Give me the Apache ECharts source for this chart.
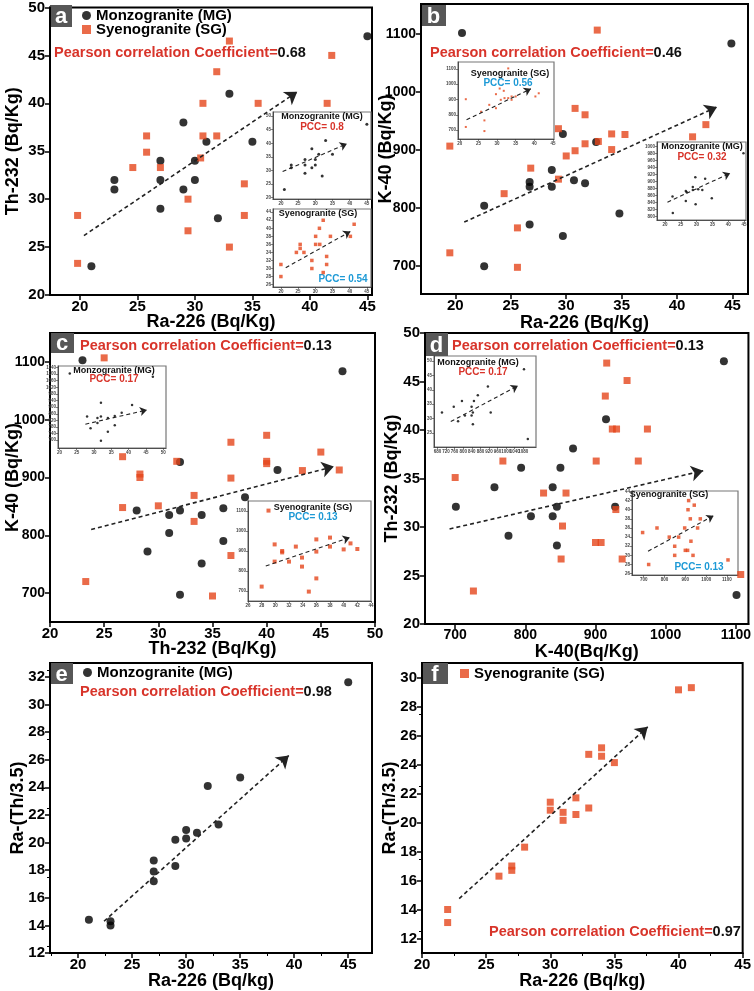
<!DOCTYPE html>
<html>
<head>
<meta charset="utf-8">
<script src="https://cdn.jsdelivr.net/npm/echarts@6/dist/echarts.min.js"></script>
<style>
  html, body { margin: 0; padding: 0; background: #fff; }
  #chart { width: 754px; height: 991px; }
</style>
</head>
<body>
<div id="chart"></div>
<script>
// ---- data ----
// panel a : Ra-226 vs Th-232
var aMG_Ra = [45, 33, 29, 31, 35, 27, 30, 23, 27, 30, 23, 29, 27, 32, 21];
var aMG_Th = [47, 41, 38, 36, 36, 34, 34, 32, 32, 32, 31, 31, 29, 28, 23];
var aSG_Ra = [33.0, 41.9, 31.9, 30.7, 35.5, 41.5, 25.8, 30.7, 31.9, 25.8, 30.5, 24.6, 27.0, 34.3, 29.4, 19.8, 34.3, 29.4, 33.0, 19.8];
var aSG_Th = [46.5, 45.0, 43.3, 40.0, 40.0, 40.0, 36.6, 36.6, 36.6, 34.9, 34.3, 33.3, 33.3, 31.6, 30.0, 28.3, 28.3, 26.7, 25.0, 23.3];
var aInSG_Ra = [20, 20, 24.5, 25.6, 25.6, 26.7, 29, 29, 30.1, 30.1, 31.2, 31.3, 32.3, 32.3, 33.3, 33.3, 34.4, 40.2, 41.3];
var aInSG_Th = [31, 28, 34, 36, 35, 34, 32, 30, 38, 36, 40, 36, 42, 29, 33, 31, 38, 38, 41];

// panel b : Ra-226 vs K-40
var bMG_Ra = [20.6, 44.9, 29.7, 32.7, 28.7, 26.7, 26.7, 28.7, 30.7, 31.7, 22.6, 26.7, 34.8, 29.7, 22.6];
var bMG_K = [1102, 1084, 928, 914, 866, 845, 837, 837, 848, 843, 804, 772, 791, 752, 700];
var bSG_Ra = [32.8, 19.5, 19.5, 24.4, 25.6, 25.6, 26.8, 29.3, 29.3, 30.8, 30.8, 30.0, 31.7, 31.7, 32.9, 34.1, 34.1, 35.3, 41.4, 42.6];
var bSG_K = [1107, 907, 723, 825, 766, 698, 869, 937, 850, 972, 899, 890, 961, 911, 915, 928, 901, 927, 923, 944];
var bInSG_Ra = [21.6, 21.6, 25.7, 26.6, 26.6, 27.9, 29.7, 29.7, 30.7, 31, 31.8, 32, 33, 33, 33.9, 33.9, 35, 40.3, 41.2];
var bInSG_K = [902, 720, 820, 763, 693, 865, 935, 843, 972, 898, 957, 909, 1104, 909, 898, 920, 920, 920, 941];
var bInMG_Ra = [22.4, 22.5, 26.6, 26.6, 26.9, 28.8, 28.8, 29.6, 29.7, 30.5, 31.8, 32.7, 34.8, 44.8];
var bInMG_K = [857, 810, 844, 873, 869, 876, 884, 912, 835, 878, 876, 908, 852, 981];

// panel c : Th-232 vs K-40
var cMG_Th = [23, 47, 32, 41, 38, 28, 31, 32, 34, 36, 31, 29, 36, 34, 32];
var cMG_K = [1103, 1084, 927, 913, 866, 843, 835, 843, 835, 847, 804, 772, 790, 751, 697];
var cSG_Th = [25.0, 23.3, 26.7, 26.7, 28.3, 28.3, 30.0, 31.7, 33.3, 33.3, 35.0, 36.7, 36.7, 36.7, 40.0, 40.0, 40.0, 43.3, 45.0, 46.7];
var cSG_K = [1107, 720, 936, 848, 906, 900, 851, 928, 869, 824, 695, 961, 899, 765, 973, 928, 924, 912, 944, 913];
var cInSG_Th = [29, 28, 29.9, 29.9, 31, 31, 32, 33, 33.9, 33.9, 36, 36, 36, 34.9, 38, 38, 40, 41, 42];
var cInSG_K = [1102, 722, 933, 847, 900, 893, 847, 922, 867, 822, 958, 897, 763, 697, 967, 922, 908, 938, 910];

// panel d : K-40 vs Th-232
var dMG_K = [1083, 915, 868, 794, 850, 756, 839, 701, 845, 928, 808, 839, 776, 845, 1101];
var dMG_Th = [47.1, 41.1, 38.1, 36.1, 36.1, 34.1, 34.1, 32.1, 32.1, 32.1, 31.1, 31.1, 29.1, 28.1, 23.0];
var dSG_K = [916, 914, 945, 924, 930, 974, 768, 901, 961, 700, 826, 858, 929, 853, 900, 908, 851, 938, 726, 1107];
var dSG_Th = [46.9, 43.5, 45.1, 40.1, 40.1, 40.1, 36.8, 36.8, 36.8, 35.1, 33.5, 33.5, 31.8, 30.1, 28.4, 28.4, 26.7, 26.7, 23.4, 25.1];
var dInSG_K = [695, 724, 764, 823, 849, 849, 868, 897, 900, 911, 913, 916, 924, 927, 937, 943, 959, 972, 1105];
var dInSG_Th = [35, 28, 36, 34, 32, 30, 34, 36, 31.1, 31.1, 40, 42, 38, 33.1, 30, 41, 36, 38, 29];

// panel e / f : Ra-226 vs Ra-(Th/3.5)
var eMG_Ra = [21, 23, 23, 27, 27, 27, 29, 29, 30, 30, 31, 32, 33, 35, 45];
var eMG_RaTh = [14.4, 14.3, 14.0, 18.7, 17.9, 17.2, 20.2, 18.3, 20.9, 20.3, 20.7, 24.1, 21.3, 24.7, 31.6];
var fSG_Ra = [22, 22, 26, 27, 27, 28, 30, 30, 31, 31, 32, 32, 33, 33, 34, 34, 35, 40, 41];
var fSG_RaTh = [14.0, 13.1, 16.3, 17.0, 16.7, 18.3, 21.4, 20.85, 20.7, 20.15, 21.7, 20.55, 21.0, 24.7, 25.15, 24.57, 24.13, 29.15, 29.3];

// trend arrows [x1, y1, x2, y2]
var aTrend = [20.35, 26.2, 38.9, 41.2];
var bTrend = [20.8, 776, 43.6, 974.5];
var cTrend = [23.8, 810, 46.2, 919];
var dTrend = [692, 29.8, 1053.5, 35.8];
var eTrend = [22.4, 14.3, 39.5, 26.3];
var fTrend = [22.9, 14.75, 37.6, 26.6];
var aInMGTrend = [20.5, 29.6, 39.2, 39.8];
var aInSGTrend = [21.4, 30.2, 40.2, 39.2];
var bInSGTrend = [21.8, 767, 39.1, 970];
var bInMGTrend = [20.8, 841, 40.6, 924];
var cInMGTrend = [27.5, 797, 45.3, 883];
var cInSGTrend = [28.6, 825, 40.9, 967];
var dInMGTrend = [742, 29, 1055, 41.4];
var dInSGTrend = [721, 30.9, 1036, 38.7];

// tick labels
var raTicks = [20, 25, 30, 35, 40, 45];
var thTicks = [20, 25, 30, 35, 40, 45, 50];
var kTicks = [700, 800, 900, 1000, 1100];
var eYTicks = [12, 14, 16, 18, 20, 22, 24, 26, 28, 30, 32];
var fYTicks = [12, 14, 16, 18, 20, 22, 24, 26, 28, 30];
var inThSGTicks = [26, 28, 30, 32, 34, 36, 38, 40, 42, 44];
var inKMGTicks = [800, 820, 840, 860, 880, 900, 920, 940, 960, 980, 1000];
var inKFineTicks = [700, 740, 780, 820, 860, 900, 940, 980, 1020, 1060, 1100, 1140];
var inKdTicks = [680, 720, 760, 800, 840, 880, 920, 960, 1000, 1040, 1080, 1120];
var inThcTicks = [26, 28, 30, 32, 34, 36, 38, 40, 42, 44];
var inThdTicks = [26, 28, 30, 32, 34, 36, 38, 40, 42, 44];

var MG = 'Monzogranite (MG)';
var SG = 'Syenogranite (SG)';
var FONT = '"Liberation Sans", Arial, sans-serif';
var RED_SQ = '#e5461c';
var RED_TX = '#d8342a';
var BLUE_TX = '#1e9ad6';

var grids = [], xAxes = [], yAxes = [], series = [], graphics = [];

function axis(gi, range, ticks, name, gap, small, minor, isX) {
  var big = ticks === kTicks ? 14 : 15;
  return {
    gridIndex: gi, type: 'value', min: range[0], max: range[1],
    name: name || '', nameLocation: 'middle', nameGap: gap || 0, nameMoveOverlap: false,
    nameTextStyle: { fontSize: 18, fontWeight: 'bold', color: '#000', fontFamily: FONT },
    axisLine: { show: true, onZero: false, lineStyle: { color: small ? '#333' : '#000', width: small ? 0.8 : 2 } },
    axisTick: { show: true, length: small ? 2 : 5, customValues: ticks,
      lineStyle: { color: small ? '#333' : '#000', width: small ? 0.6 : 1.5 } },
    minorTick: { show: !!minor, splitNumber: 2, length: 3, lineStyle: { color: '#000', width: 1 } },
    axisLabel: { customValues: ticks, fontSize: small ? 4.5 : big, fontWeight: 'bold',
      color: small ? '#444' : '#000', margin: small ? 2 : (isX ? 4 : 5), fontFamily: FONT,
      formatter: function (v) { return String(v); } },
    splitLine: { show: false }
  };
}

function panel(box, xr, yr, xt, yt, xName, yName, xGap, yGap, small, minor) {
  var gi = grids.length;
  grids.push({ left: box[0], top: box[1], width: box[2], height: box[3], show: true,
    borderColor: small ? '#777' : '#000', borderWidth: small ? 1.2 : 2, backgroundColor: 'transparent' });
  xAxes.push(axis(gi, xr, xt, xName, xGap, small, minor, true));
  yAxes.push(axis(gi, yr, yt, yName, yGap, small, minor, false));
  return gi;
}

function scatter(gi, xs, ys, kind, size) {
  series.push({
    type: 'scatter', name: kind === 'MG' ? MG : SG, xAxisIndex: gi, yAxisIndex: gi,
    symbol: kind === 'MG' ? 'circle' : 'rect', symbolSize: size,
    itemStyle: { color: kind === 'MG' ? '#000' : RED_SQ },
    data: xs.map(function (x, i) { return [x, ys[i]]; }),
    silent: true, animation: false
  });
}

function arrow(gi, t, small) {
  series.push({
    type: 'scatter', xAxisIndex: gi, yAxisIndex: gi, data: [], silent: true, animation: false,
    markLine: {
      silent: true, animation: false, symbol: ['none', 'arrow'],
      symbolSize: small ? 7 : 12, label: { show: false },
      itemStyle: { color: '#222' },
      lineStyle: { type: [4, 3], color: '#222', width: small ? 1.1 : 1.6 },
      data: [[{ coord: [t[0], t[1]] }, { coord: [t[2], t[3]] }]]
    }
  });
}

function pcc(x, y, val) {
  graphics.push({ type: 'text', left: x, top: y - 9, silent: true, style: {
    text: '{r|Pearson correlation Coefficient=}{k|' + val + '}',
    rich: { r: { fill: RED_TX, fontSize: 14.5, fontWeight: 'bold', fontFamily: FONT },
            k: { fill: '#111', fontSize: 14.5, fontWeight: 'bold', fontFamily: FONT } } } });
}

function letter(x, y, w, h, ch) {
  graphics.push({ type: 'rect', shape: { x: x, y: y, width: w, height: h }, style: { fill: '#575757' }, silent: true });
  graphics.push({ type: 'text', x: x + w / 2, y: y + h / 2 + 1, silent: true, style: {
    text: ch, fill: '#fff', fontSize: 22, fontWeight: 'bold', fontFamily: FONT, align: 'center', verticalAlign: 'middle' } });
}

function inText(x, y, txt, color, size) {
  graphics.push({ type: 'text', x: x, y: y, silent: true, style: {
    text: txt, fill: color, fontSize: size, fontWeight: 'bold', fontFamily: FONT, align: 'center', verticalAlign: 'middle' } });
}

// ---- panel a ----
var ga = panel([50, 4, 322, 291], [17.4, 45.4], [20, 50], raTicks, thTicks, 'Ra-226 (Bq/Kg)', 'Th-232 (Bq/Kg)', 18, 28);
scatter(ga, aMG_Ra, aMG_Th, 'MG', 8);
scatter(ga, aSG_Ra, aSG_Th, 'SG', 7);
arrow(ga, aTrend);
var gaM = panel([273, 112, 98, 87], [17.7, 46.2], [19.5, 51.5], raTicks, thTicks, '', '', 0, 0, true);
scatter(gaM, aMG_Ra, aMG_Th, 'MG', 3);
arrow(gaM, aInMGTrend, true);
var gaS = panel([273, 209, 98, 78], [17.7, 46.2], [25.4, 44.8], raTicks, inThSGTicks, '', '', 0, 0, true);
scatter(gaS, aInSG_Ra, aInSG_Th, 'SG', 3.5);
arrow(gaS, aInSGTrend, true);

// ---- panel b ----
var gb = panel([421, 4, 327, 290], [16.9, 46.4], [652, 1152], raTicks, kTicks, 'Ra-226 (Bq/Kg)', 'K-40 (Bq/Kg)', 20, 26);
scatter(gb, bMG_Ra, bMG_K, 'MG', 8);
scatter(gb, bSG_Ra, bSG_K, 'SG', 7);
arrow(gb, bTrend);
var gbS = panel([458, 62, 96, 77], [19.5, 45.3], [641, 1146], raTicks, kTicks, '', '', 0, 0, true);
scatter(gbS, bInSG_Ra, bInSG_K, 'SG', 2);
arrow(gbS, bInSGTrend, true);
var gbM = panel([657, 142, 89, 78], [17.5, 45.6], [790, 1013], raTicks, inKMGTicks, '', '', 0, 0, true);
scatter(gbM, bInMG_Ra, bInMG_K, 'MG', 2.5);
arrow(gbM, bInMGTrend, true);

// ---- panel c ----
var gc = panel([50, 333, 325, 289], [20, 50], [650, 1150], thTicks, kTicks, 'Th-232 (Bq/Kg)', 'K-40 (Bq/Kg)', 18, 28);
scatter(gc, cMG_Th, cMG_K, 'MG', 8);
scatter(gc, cSG_Th, cSG_K, 'SG', 7);
arrow(gc, cTrend);
var gcM = panel([58, 366, 108, 82], [19.6, 50.8], [653, 1149], thTicks, inKFineTicks, '', '', 0, 0, true);
scatter(gcM, cMG_Th, cMG_K, 'MG', 2.5);
arrow(gcM, cInMGTrend, true);
var gcS = panel([248, 501, 123, 100], [26, 44], [650, 1150], inThcTicks, kTicks, '', '', 0, 0, true);
scatter(gcS, cInSG_Th, cInSG_K, 'SG', 4);
arrow(gcS, cInSGTrend, true);

// ---- panel d ----
var gd = panel([425, 333, 324, 291], [657, 1118], [20, 50], kTicks, thTicks, 'K-40(Bq/Kg)', 'Th-232 (Bq/Kg)', 19, 24);
scatter(gd, dMG_K, dMG_Th, 'MG', 8);
scatter(gd, dSG_K, dSG_Th, 'SG', 7);
arrow(gd, dTrend);
var gdM = panel([434, 356, 102, 91], [664, 1139], [20.2, 51.7], inKdTicks, thTicks, '', '', 0, 0, true);
scatter(gdM, dMG_K, dMG_Th, 'MG', 2.5);
arrow(gdM, dInMGTrend, true);
var gdS = panel([632, 491, 106, 84], [644, 1153], [25.7, 44.1], kTicks, inThdTicks, '', '', 0, 0, true);
scatter(gdS, dInSG_K, dInSG_Th, 'SG', 3.5);
arrow(gdS, dInSGTrend, true);

// ---- panel e ----
var ge = panel([50, 663, 322, 290], [17.4, 47.2], [12, 33], raTicks, eYTicks, 'Ra-226 (Bq/kg)', 'Ra-(Th/3.5)', 19, 23, false, true);
scatter(ge, eMG_Ra, eMG_RaTh, 'MG', 8);
arrow(ge, eTrend);

// ---- panel f ----
var gf = panel([422, 663, 327, 290], [20, 45], [11, 31], raTicks, fYTicks, 'Ra-226 (Bq/kg)', 'Ra-(Th/3.5)', 19, 23, false, true);
scatter(gf, fSG_Ra, fSG_RaTh, 'SG', 7);
arrow(gf, fTrend);

// ---- texts ----
letter(50, 5, 22, 22, 'a');
letter(421, 5, 25, 21, 'b');
letter(50, 333, 24, 20, 'c');
letter(425, 333, 23, 23, 'd');
letter(50, 663, 23, 21, 'e');
letter(422, 663, 26, 21, 'f');

pcc(54, 54, '0.68');
pcc(430, 54, '0.46');
pcc(80, 347, '0.13');
pcc(452, 347, '0.13');
pcc(80, 693, '0.98');
pcc(489, 933, '0.97');

inText(322, 117, MG, '#111', 9); inText(322, 127, 'PCC= 0.8', RED_TX, 10);
inText(318, 214, SG, '#111', 9); inText(343, 279, 'PCC= 0.54', BLUE_TX, 10);
inText(510, 74, SG, '#111', 9); inText(508, 83, 'PCC= 0.56', BLUE_TX, 10);
inText(702, 147, MG, '#111', 9); inText(702, 157, 'PCC= 0.32', RED_TX, 10);
inText(114, 371, MG, '#111', 9); inText(114, 379, 'PCC= 0.17', RED_TX, 10);
inText(313, 508, SG, '#111', 9); inText(313, 517, 'PCC= 0.13', BLUE_TX, 10);
inText(478, 363, MG, '#111', 9); inText(483, 372, 'PCC= 0.17', RED_TX, 10);
inText(669, 495, SG, '#111', 9); inText(699, 567, 'PCC= 0.13', BLUE_TX, 10);

var legendText = { fontSize: 15, fontWeight: 'bold', color: '#000', fontFamily: FONT };
function legendRow(left, top, name, icon) {
  return { left: left, top: top, padding: 0, itemWidth: 9, itemHeight: 9, itemGap: 0, selectedMode: false,
    textStyle: legendText, data: [{ name: name, icon: icon }] };
}
var chart = echarts.init(document.getElementById('chart'), null, { renderer: 'canvas' });
chart.setOption({
  backgroundColor: '#fff',
  animation: false,
  grid: grids,
  xAxis: xAxes,
  yAxis: yAxes,
  legend: [
    legendRow(82, 8, MG, 'circle'),
    legendRow(82, 22, SG, 'rect'),
    legendRow(83, 665, MG, 'circle'),
    legendRow(460, 666, SG, 'rect')
  ],
  graphic: graphics,
  series: series
});
</script>
</body>
</html>
